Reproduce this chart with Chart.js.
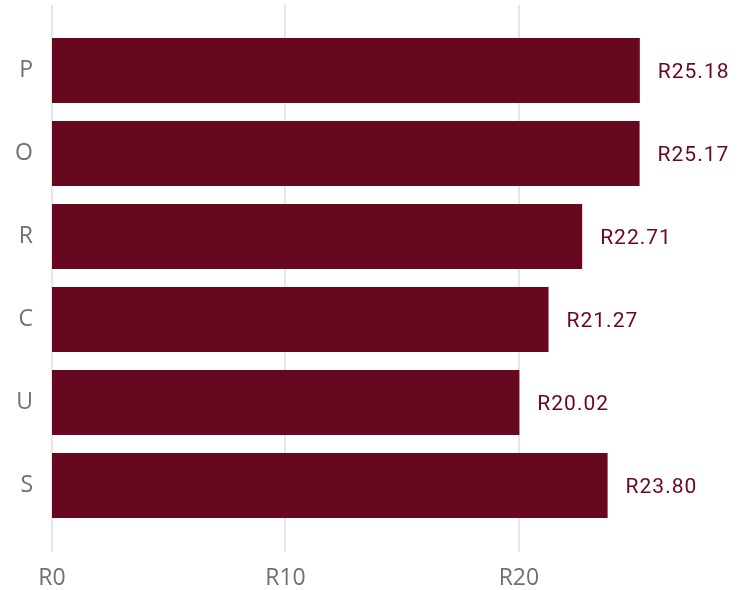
<!DOCTYPE html>
<html>
<head>
<meta charset="utf-8">
<script src="https://cdn.jsdelivr.net/npm/chart.js@4.4.1/dist/chart.umd.min.js"></script>
<style>
  html, body { margin: 0; padding: 0; background: #fff; }
  #wrap { width: 746px; height: 590px; }
</style>
</head>
<body>
<div id="wrap"><canvas id="priceChart" width="746" height="590"></canvas></div>
<script>
const categories = ['P', 'O', 'R', 'C', 'U', 'S'];
const prices = [25.18, 25.17, 22.71, 21.27, 20.02, 23.80];
const xTickValues = [0, 10, 20];

const BAR_COLOR = '#680820';
const AXIS_GREY = '#707070';

// gridlines run past the plot area at top and bottom, so draw them ourselves
const longGrid = {
    id: 'longGrid',
    beforeDatasetsDraw(chart) {
        const c = chart.ctx;
        const xs = chart.scales.x;
        c.save();
        c.strokeStyle = '#e6e6e6';
        c.lineWidth = 2;
        xTickValues.forEach(v => {
            const px = Math.round(xs.getPixelForValue(v));
            c.beginPath();
            c.moveTo(px, 5);
            c.lineTo(px, 552);
            c.stroke();
        });
        c.restore();
    }
};

const valueLabels = {
    id: 'valueLabels',
    afterDatasetsDraw(chart) {
        const c = chart.ctx;
        const meta = chart.getDatasetMeta(0);
        c.save();
        c.fillStyle = BAR_COLOR;
        c.font = '21px Roboto';
        c.letterSpacing = '1px';
        c.textAlign = 'left';
        c.textBaseline = 'middle';
        meta.data.forEach((bar, i) => {
            c.fillText('R' + prices[i].toFixed(2), bar.x + 18, bar.y + 2);
        });
        c.restore();
    }
};

new Chart(document.getElementById('priceChart'), {
    type: 'bar',
    data: {
        labels: categories,
        datasets: [{
            data: prices,
            backgroundColor: BAR_COLOR,
            borderWidth: 0,
            categoryPercentage: 0.87,
            barPercentage: 0.9
        }]
    },
    options: {
        indexAxis: 'y',
        responsive: false,
        animation: false,
        layout: { padding: { top: 29, right: 17, left: 0, bottom: 0 } },
        plugins: { legend: { display: false }, tooltip: { enabled: false } },
        scales: {
            x: {
                min: 0,
                max: 29,
                border: { display: false },
                grid: { display: false },
                afterFit(s) { s.height = 63; },
                ticks: {
                    stepSize: 10,
                    includeBounds: false,
                    padding: 30,
                    color: AXIS_GREY,
                    font: { family: 'Open Sans', size: 23 },
                    callback: v => 'R' + v
                }
            },
            y: {
                border: { display: false },
                grid: { display: false, drawTicks: false },
                afterFit(s) {
                    s.width = 52;
                    s.paddingTop = 0;
                    s.paddingBottom = 0;
                },
                ticks: {
                    padding: 19,
                    color: AXIS_GREY,
                    font: { family: 'Open Sans', size: 23 }
                }
            }
        }
    },
    plugins: [longGrid, valueLabels]
});
</script>
</body>
</html>
